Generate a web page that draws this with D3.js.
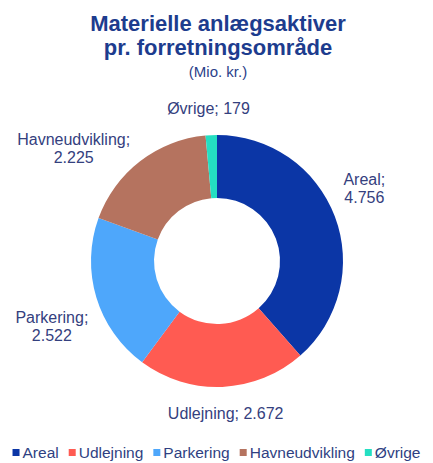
<!DOCTYPE html>
<html>
<head>
<meta charset="utf-8">
<script src="https://cdn.jsdelivr.net/npm/d3@7"></script>
<style>
  body { margin: 0; background: #fff; }
  text { font-family: "Liberation Sans", Arial, sans-serif; }
</style>
</head>
<body>
<svg id="chart" width="433" height="463"></svg>
<script>
// Data
const categories = ["Areal", "Udlejning", "Parkering", "Havneudvikling", "Øvrige"];
const values = [4756, 2672, 2522, 2225, 179];
const valueLabels = ["4.756", "2.672", "2.522", "2.225", "179"];
const colors = ["#0b36a6", "#ff5b52", "#4ea7fb", "#b5735f", "#24dfc2"];
// how each data label wraps (Excel style)
const labelWrap = [true, false, true, true, false];

const width = 433, height = 463;
const cx = 217, cy = 261;
const outerR = 126, innerR = 63;
// Excel "best fit" nudges the labels round a little (degrees)
const labelNudge = [-6, 0, -7, -8, 0];

const svg = d3.select("#chart");

// Title
svg.append("text")
    .attr("x", 218).attr("y", 31)
    .attr("text-anchor", "middle")
    .attr("font-size", 22).attr("font-weight", "bold")
    .attr("fill", "#1d3c8e")
    .text("Materielle anlægsaktiver");
svg.append("text")
    .attr("x", 218).attr("y", 55)
    .attr("text-anchor", "middle")
    .attr("font-size", 22).attr("font-weight", "bold")
    .attr("fill", "#1d3c8e")
    .text("pr. forretningsområde");
svg.append("text")
    .attr("x", 218).attr("y", 77)
    .attr("text-anchor", "middle")
    .attr("font-size", 15)
    .attr("fill", "#2b3f8a")
    .text("(Mio. kr.)");

// Donut
const pie = d3.pie().sort(null).value(d => d);
const arcs = pie(values);
const arc = d3.arc().innerRadius(innerR).outerRadius(outerR);

const g = svg.append("g").attr("transform", `translate(${cx},${cy})`);
g.selectAll("path")
    .data(arcs)
    .join("path")
    .attr("d", arc)
    .attr("fill", (d, i) => colors[i]);

// Data labels, placed just outside the ring
const labelColor = "#34407e";
const lineH = 18;
arcs.forEach((d, i) => {
    const a = (d.startAngle + d.endAngle) / 2 + labelNudge[i] * Math.PI / 180;
    const lines = labelWrap[i]
        ? [categories[i] + ";", valueLabels[i]]
        : [categories[i] + "; " + valueLabels[i]];
    const t = g.append("text")
        .attr("text-anchor", "middle")
        .attr("font-size", 16)
        .attr("fill", labelColor);
    lines.forEach((s, k) => {
        t.append("tspan").attr("x", 0).attr("dy", k === 0 ? 0 : lineH).text(s);
    });
    const bb = t.node().getBBox();
    const r0 = outerR + 18;
    const px = r0 * Math.sin(a), py = -r0 * Math.cos(a);
    const bx = px + Math.sin(a) * bb.width / 2;
    const by = py - Math.cos(a) * bb.height / 2;
    // shift so bbox centre lands at (bx, by)
    const ox = bx - (bb.x + bb.width / 2);
    const oy = by - (bb.y + bb.height / 2);
    t.attr("transform", `translate(${ox},${oy})`);
});

// Legend
const legend = svg.append("g").attr("transform", "translate(0,458)");
const items = [];
categories.forEach((c, i) => {
    const it = legend.append("g");
    it.append("rect")
        .attr("x", 0).attr("y", -9)
        .attr("width", 7).attr("height", 7)
        .attr("fill", colors[i]);
    const tx = it.append("text")
        .attr("x", 10).attr("y", 0)
        .attr("font-size", 15.5)
        .attr("fill", "#2f3f82")
        .text(c);
    const w = 10 + tx.node().getComputedTextLength();
    items.push({ it, w });
});
const gap = 10;
const total = d3.sum(items, d => d.w) + gap * (items.length - 1);
let lx = (width - total) / 2;
items.forEach(d => {
    d.it.attr("transform", `translate(${lx},0)`);
    lx += d.w + gap;
});
</script>
</body>
</html>
